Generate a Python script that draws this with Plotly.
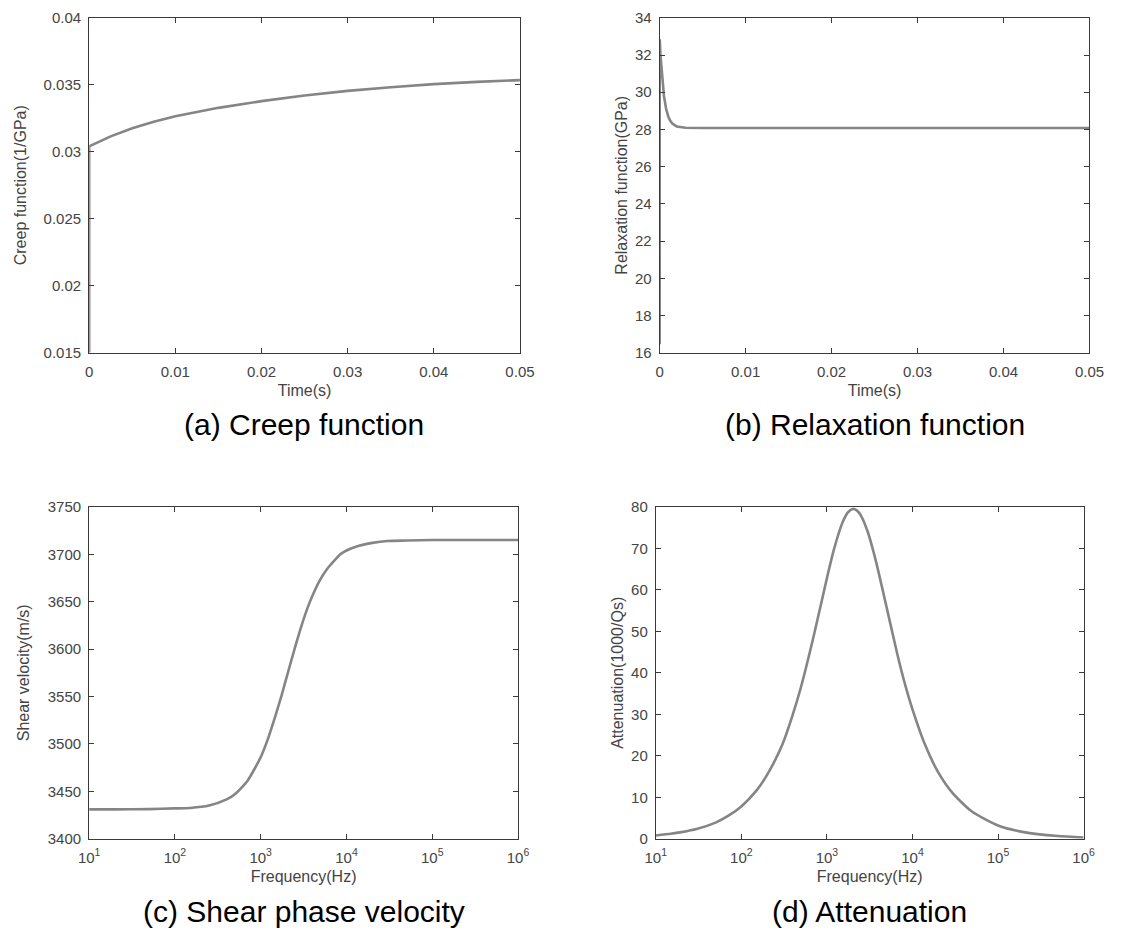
import math
import plotly.graph_objects as go

# ---- (a) creep function ----
creep_t = [0.0, 0.0, 0.0025, 0.005, 0.0075, 0.01, 0.015, 0.02, 0.025, 0.03, 0.035, 0.04, 0.045, 0.05]
creep_j = [0.0150, 0.0304, 0.03115, 0.03175, 0.03225, 0.03265, 0.03328, 0.03378, 0.03420, 0.03455, 0.03482, 0.03505, 0.03522, 0.03535]

# ---- (b) relaxation function ----
relax_t = [0.0, 0.00001, 0.0001, 0.00025, 0.0005, 0.00075, 0.001, 0.00125, 0.0015, 0.002, 0.0025, 0.003, 0.005, 0.02, 0.05]
relax_g = [16.45, 32.85, 31.97, 30.94, 29.80, 29.11, 28.70, 28.45, 28.30, 28.16, 28.11, 28.09, 28.08, 28.08, 28.08]

# ---- (c) shear phase velocity ----
vel_f = [10, 20, 50, 100, 150, 250, 400, 500, 700, 1000, 1200, 1500, 1750, 2000, 2500, 3000, 3500,
         4000, 5000, 6000, 7000, 8500, 10000, 14000, 20000, 30000, 50000, 100000, 1000000]
vel_v = [3431, 3431, 3431.3, 3432, 3432.5, 3435, 3441.5, 3447, 3461, 3486, 3504, 3531, 3551, 3570,
         3601, 3625, 3643, 3656, 3674, 3685, 3692, 3700, 3704, 3709, 3712, 3714, 3714.5, 3715, 3715]

# ---- (d) attenuation ----
att_f = [10, 15, 20, 30, 50, 70, 100, 150, 200, 300, 400, 500, 700, 1000, 1200, 1500, 1750, 2000,
         2250, 2500, 3000, 3500, 4000, 5000, 6000, 7000, 8500, 10000, 14000, 20000, 30000, 50000,
         100000, 200000, 500000, 1000000]
att_q = [0.8, 1.2, 1.6, 2.35, 3.9, 5.5, 7.8, 11.6, 15.4, 22.6, 30.0, 36.7, 48.8, 62.8, 69.5, 75.9,
         78.6, 79.5, 79.1, 77.9, 74.0, 69.2, 64.4, 55.7, 48.5, 42.6, 36.0, 31.2, 22.7, 16.0, 10.8,
         6.5, 3.2, 1.6, 0.65, 0.32]

time_ticks = [0, 0.01, 0.02, 0.03, 0.04, 0.05]
time_text = ["0", "0.01", "0.02", "0.03", "0.04", "0.05"]
creep_ticks = [0.015, 0.02, 0.025, 0.03, 0.035, 0.04]
creep_text = ["0.015", "0.02", "0.025", "0.03", "0.035", "0.04"]
relax_ticks = list(range(16, 35, 2))
vel_ticks = list(range(3400, 3751, 50))
att_ticks = list(range(0, 81, 10))
dec_ticks = [1, 2, 3, 4, 5, 6]
dec_text = ["10<sup>%d</sup>" % p for p in dec_ticks]

W, H = 1125, 943
LINE = dict(color="#858585", width=2.6)
AX = "#3a3a3a"
TXT = "#444444"
FONT = "Liberation Sans, Arial, sans-serif"


def px_x(a, b):
    return [a / W, b / W]


def px_y(top, bottom):
    return [1 - bottom / H, 1 - top / H]


fig = go.Figure()
fig.add_trace(go.Scatter(x=creep_t, y=creep_j, mode="lines", line=LINE, xaxis="x", yaxis="y"))
fig.add_trace(go.Scatter(x=relax_t, y=relax_g, mode="lines", line=LINE, xaxis="x2", yaxis="y2"))
fig.add_trace(go.Scatter(x=vel_f, y=vel_v, mode="lines", line=dict(LINE, shape="spline", smoothing=0.6),
                         xaxis="x3", yaxis="y3"))
fig.add_trace(go.Scatter(x=att_f, y=att_q, mode="lines", line=dict(LINE, shape="spline", smoothing=0.6),
                         xaxis="x4", yaxis="y4"))

common = dict(showline=True, linecolor=AX, linewidth=1, mirror="ticks", ticks="inside",
              ticklen=5, tickcolor=AX, tickwidth=1, showgrid=False, zeroline=False,
              tickfont=dict(family=FONT, size=15, color=TXT), fixedrange=True)
xcommon = dict(common, ticklabelstandoff=5)
ycommon = dict(common, ticklabelstandoff=4)

minor_vals = [m * 10 ** k for k in range(1, 6) for m in range(2, 10)]
minor_log = dict(ticks="inside", ticklen=2.5, tickcolor=AX, tickwidth=1, showgrid=False,
                 tickmode="array", tickvals=[math.log10(v) for v in minor_vals])

title_font = dict(family=FONT, size=16, color=TXT)

TOP = (9, 350)
BOT = (507, 845)

fig.update_layout(
    width=W, height=H, margin=dict(l=0, r=0, t=0, b=0),
    paper_bgcolor="white", plot_bgcolor="white", showlegend=False,
    xaxis=dict(xcommon, domain=px_x(80, 521), anchor="y", range=[0, 0.05],
               tickmode="array", tickvals=time_ticks, ticktext=time_text,
               title=dict(text="Time(s)", font=title_font, standoff=6)),
    yaxis=dict(ycommon, domain=px_y(*TOP), anchor="x", range=[0.015, 0.04],
               tickmode="array", tickvals=creep_ticks, ticktext=creep_text,
               title=dict(text="Creep function(1/GPa)", font=title_font, standoff=12)),
    xaxis2=dict(xcommon, domain=px_x(664, 1104), anchor="y2", range=[0, 0.05],
                tickmode="array", tickvals=time_ticks, ticktext=time_text,
                title=dict(text="Time(s)", font=title_font, standoff=6)),
    yaxis2=dict(ycommon, domain=px_y(*TOP), anchor="x2", range=[16, 34],
                tickmode="array", tickvals=relax_ticks,
                title=dict(text="Relaxation function(GPa)", font=title_font, standoff=3)),
    xaxis3=dict(xcommon, type="log", domain=px_x(80, 519), anchor="y3", range=[1, 6],
                tickmode="array", tickvals=[10 ** p for p in dec_ticks], ticktext=dec_text,
                minor=minor_log,
                title=dict(text="Frequency(Hz)", font=title_font, standoff=6)),
    yaxis3=dict(ycommon, domain=px_y(*BOT), anchor="x3", range=[3400, 3750],
                tickmode="array", tickvals=vel_ticks,
                title=dict(text="Shear velocity(m/s)", font=title_font, standoff=14)),
    xaxis4=dict(xcommon, type="log", domain=px_x(660, 1098), anchor="y4", range=[1, 6],
                tickmode="array", tickvals=[10 ** p for p in dec_ticks], ticktext=dec_text,
                minor=minor_log,
                title=dict(text="Frequency(Hz)", font=title_font, standoff=6)),
    yaxis4=dict(ycommon, domain=px_y(*BOT), anchor="x4", range=[0, 80],
                tickmode="array", tickvals=att_ticks,
                title=dict(text="Attenuation(1000/Qs)", font=title_font, standoff=3)),
)

captions = [
    ("(a) Creep function", 300, 423),
    ("(b) Relaxation function", 884, 423),
    ("(c) Shear phase velocity", 300, 919),
    ("(d) Attenuation", 879, 919),
]
for text, cx, cy in captions:
    fig.add_annotation(text=text, x=cx / W, y=1 - cy / H, xref="paper", yref="paper",
                       showarrow=False, xanchor="center", yanchor="middle",
                       font=dict(family=FONT, size=30, color="black"))

fig.write_html("out.html")
